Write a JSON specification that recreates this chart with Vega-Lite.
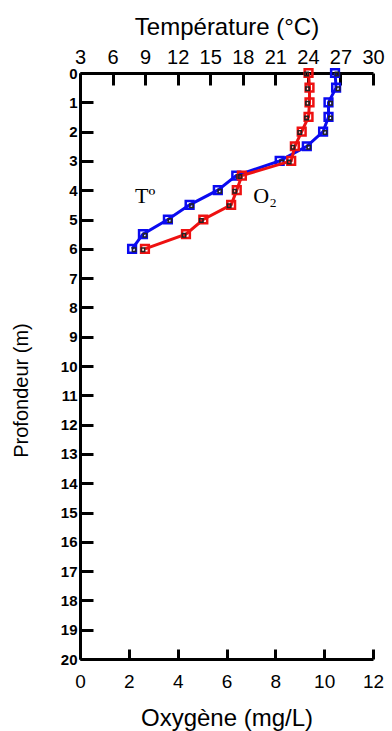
{
  "$schema": "https://vega.github.io/schema/vega-lite/v6.json",
  "width": 293,
  "height": 586,
  "autosize": {"type": "none"},
  "padding": {"left": 80, "top": 73, "right": 19, "bottom": 72},
  "background": "white",
  "config": {
    "view": {"stroke": null},
    "font": "Liberation Sans",
    "axis": {
      "grid": false,
      "domainColor": "black",
      "domainWidth": 3,
      "tickColor": "black",
      "tickWidth": 3,
      "labelColor": "black",
      "titleColor": "black",
      "labelFont": "Liberation Sans",
      "titleFont": "Liberation Sans",
      "titleFontWeight": "normal"
    }
  },
  "datasets": {
    "temp": [
      {"depth": 0, "temp": 26.5},
      {"depth": 0.5, "temp": 26.6},
      {"depth": 1, "temp": 25.9},
      {"depth": 1.5, "temp": 25.9},
      {"depth": 2, "temp": 25.4},
      {"depth": 2.5, "temp": 23.9},
      {"depth": 3, "temp": 21.4},
      {"depth": 3.5, "temp": 17.4},
      {"depth": 4, "temp": 15.7},
      {"depth": 4.5, "temp": 13.1},
      {"depth": 5, "temp": 11.1},
      {"depth": 5.5, "temp": 8.8},
      {"depth": 6, "temp": 7.8}
    ],
    "oxy": [
      {"depth": 0, "oxygen": 9.36},
      {"depth": 0.5, "oxygen": 9.4},
      {"depth": 1, "oxygen": 9.4},
      {"depth": 1.5, "oxygen": 9.36},
      {"depth": 2, "oxygen": 9.08},
      {"depth": 2.5, "oxygen": 8.8},
      {"depth": 3, "oxygen": 8.65},
      {"depth": 3.5, "oxygen": 6.63},
      {"depth": 4, "oxygen": 6.42},
      {"depth": 4.5, "oxygen": 6.19},
      {"depth": 5, "oxygen": 5.05},
      {"depth": 5.5, "oxygen": 4.34},
      {"depth": 6, "oxygen": 2.66}
    ]
  },
  "encoding": {
    "y": {
      "field": "depth",
      "type": "quantitative",
      "scale": {"domain": [0, 20], "reverse": true, "nice": false, "zero": false},
      "axis": {
        "title": "Profondeur (m)",
        "values": [0,1,2,3,4,5,6,7,8,9,10,11,12,13,14,15,16,17,18,19,20],
        "tickSize": -13,
        "labelPadding": 16,
        "labelFontSize": 15,
        "labelFontWeight": "bold",
        "titleFontSize": 20,
        "titleX": -59,
        "titleY": 317,
        "titleAlign": "center",
        "titleBaseline": "middle",
        "labelOverlap": false
      }
    }
  },
  "layer": [
    {
      "encoding": {
        "x": {
          "field": "temp",
          "type": "quantitative",
          "scale": {"domain": [3, 30], "nice": false, "zero": false},
          "axis": {
            "orient": "top",
            "title": "Température (°C)",
            "values": [3,6,9,12,15,18,21,24,27,30],
            "tickSize": -12,
            "labelPadding": 18,
            "labelFontSize": 20,
            "titleFontSize": 24,
            "titlePadding": 8,
            "labelOverlap": false,
            "labelFlush": false
          }
        }
      },
      "layer": [
        {
          "data": {"name": "temp"},
          "mark": {"type": "line", "color": "#0a0af0", "strokeWidth": 3},
          "encoding": {"order": {"field": "depth"}}
        },
        {
          "data": {"name": "temp"},
          "mark": {"type": "point", "shape": "square", "filled": false, "color": "#0a0af0", "size": 60, "strokeWidth": 2.5, "opacity": 1}
        },
        {
          "data": {"name": "temp"},
          "mark": {"type": "point", "shape": "square", "filled": false, "color": "#222222", "size": 12, "strokeWidth": 1.5, "opacity": 1, "xOffset": 2, "yOffset": 1}
        },
        {
          "data": {"values": [{"depth": 4.2, "temp": 9.0, "label": "Tº"}]},
          "mark": {"type": "text", "font": "Liberation Serif", "fontSize": 22, "color": "black", "align": "center", "baseline": "middle"},
          "encoding": {"text": {"field": "label"}}
        }
      ]
    },
    {
      "encoding": {
        "x": {
          "field": "oxygen",
          "type": "quantitative",
          "scale": {"domain": [0, 12], "nice": false, "zero": false},
          "axis": {
            "orient": "bottom",
            "title": "Oxygène (mg/L)",
            "values": [0,2,4,6,8,10,12],
            "tickSize": -10,
            "labelPadding": 23,
            "labelFontSize": 19,
            "titleFontSize": 24,
            "titlePadding": 15,
            "labelOverlap": false,
            "labelFlush": false
          }
        }
      },
      "layer": [
        {
          "data": {"name": "oxy"},
          "mark": {"type": "line", "color": "#ee1111", "strokeWidth": 3},
          "encoding": {"order": {"field": "depth"}}
        },
        {
          "data": {"name": "oxy"},
          "mark": {"type": "point", "shape": "square", "filled": false, "color": "#ee1111", "size": 60, "strokeWidth": 2.5, "opacity": 1}
        },
        {
          "data": {"name": "oxy"},
          "mark": {"type": "point", "shape": "square", "filled": false, "color": "#222222", "size": 12, "strokeWidth": 1.5, "opacity": 1, "xOffset": -2, "yOffset": 1}
        },
        {
          "data": {"values": [{"depth": 4.2, "oxygen": 7.1, "label": "O₂"}]},
          "mark": {"type": "text", "font": "Liberation Serif", "fontSize": 22, "color": "black", "align": "left", "baseline": "middle"},
          "encoding": {"text": {"field": "label"}}
        }
      ]
    }
  ],
  "resolve": {"scale": {"x": "independent"}, "axis": {"x": "independent"}}
}
